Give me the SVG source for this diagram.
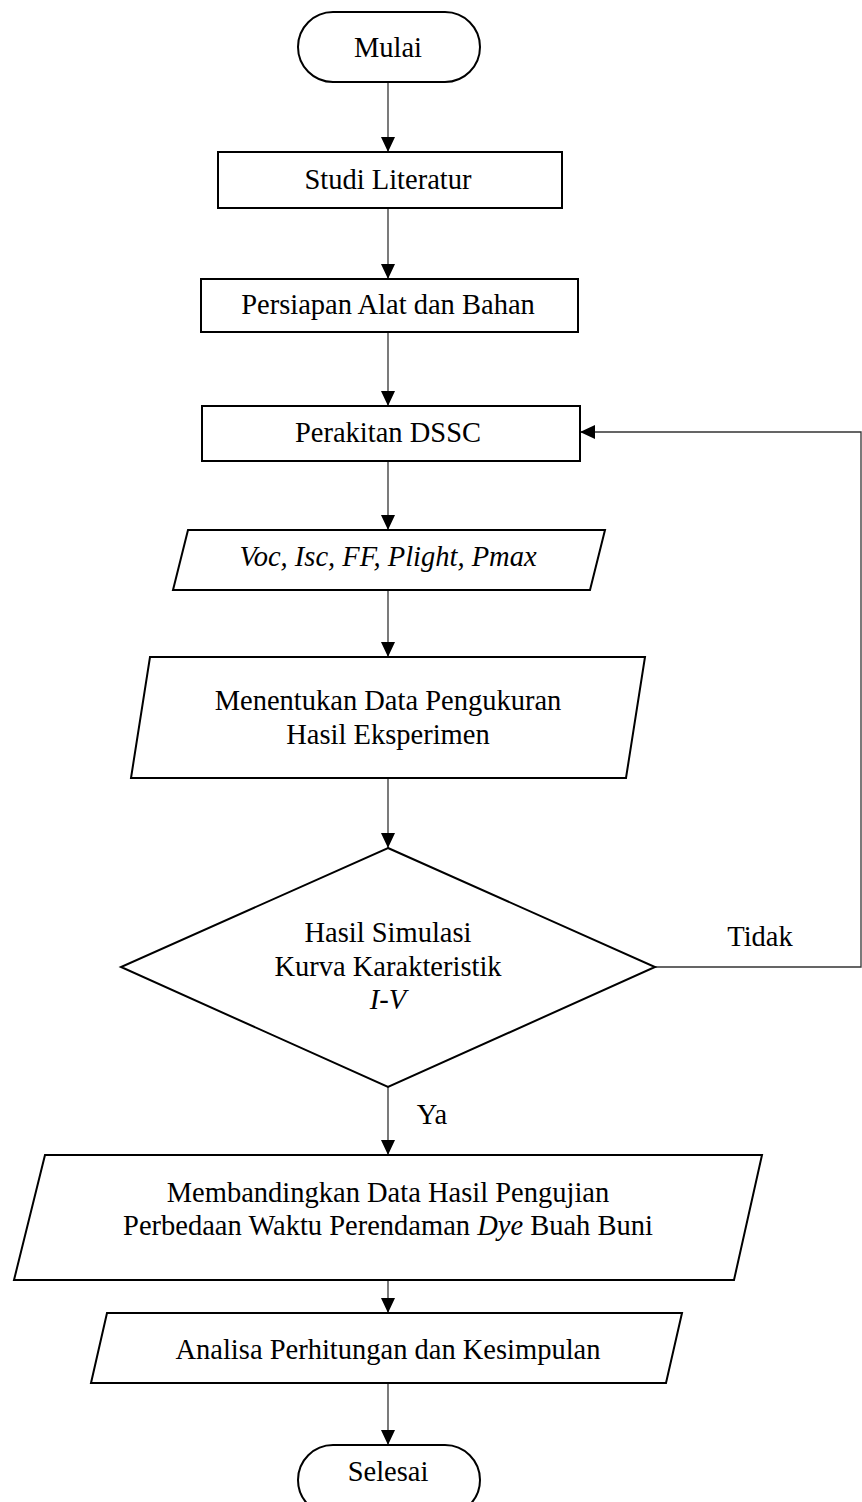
<svg xmlns="http://www.w3.org/2000/svg" width="862" height="1502" viewBox="0 0 862 1502">
<style>
.s{fill:#fff;stroke:#000;stroke-width:2}
.t{font-family:"Liberation Serif","Times New Roman",serif;font-size:28.5px;fill:#000;text-anchor:middle}
.i{font-style:italic}
.c{fill:none;stroke:#333;stroke-width:1.3}
</style>
<defs>
<marker id="a" markerWidth="15" markerHeight="14" refX="15" refY="7" orient="auto" markerUnits="userSpaceOnUse">
<path d="M0,0 L15,7 L0,14 Z" fill="#000"/>
</marker>
</defs>
<rect width="862" height="1502" fill="#fff"/>
<g id="connectors">
<line class="c" x1="388" y1="82" x2="388" y2="152" marker-end="url(#a)"/>
<line class="c" x1="388" y1="208" x2="388" y2="279" marker-end="url(#a)"/>
<line class="c" x1="388" y1="332" x2="388" y2="406" marker-end="url(#a)"/>
<line class="c" x1="388" y1="461" x2="388" y2="530" marker-end="url(#a)"/>
<line class="c" x1="388" y1="590" x2="388" y2="657" marker-end="url(#a)"/>
<line class="c" x1="388" y1="778" x2="388" y2="848" marker-end="url(#a)"/>
<line class="c" x1="388" y1="1087" x2="388" y2="1155" marker-end="url(#a)"/>
<line class="c" x1="388" y1="1280" x2="388" y2="1313" marker-end="url(#a)"/>
<line class="c" x1="388" y1="1383" x2="388" y2="1445" marker-end="url(#a)"/>
<polyline class="c" points="655,967 861,967 861,432 580,432" marker-end="url(#a)"/>
<text class="t" x="760" y="946">Tidak</text>
<text class="t" x="432" y="1124">Ya</text>
</g>
<g id="mulai">
<rect class="s" x="298" y="12" width="182" height="70" rx="35"/>
<text class="t" x="388" y="57">Mulai</text>
</g>
<g id="studi">
<rect class="s" x="218" y="152" width="344" height="56"/>
<text class="t" x="388" y="189">Studi Literatur</text>
</g>
<g id="persiapan">
<rect class="s" x="201" y="279" width="377" height="53"/>
<text class="t" x="388" y="314">Persiapan Alat dan Bahan</text>
</g>
<g id="perakitan">
<rect class="s" x="202" y="406" width="378" height="55"/>
<text class="t" x="388" y="442">Perakitan DSSC</text>
</g>
<g id="voc">
<polygon class="s" points="188,530 605,530 590,590 173,590"/>
<text class="t i" x="388" y="566">Voc, Isc, FF, Plight, Pmax</text>
</g>
<g id="menentukan">
<polygon class="s" points="150,657 645,657 626,778 131,778"/>
<text class="t" x="388" y="710">Menentukan Data Pengukuran</text>
<text class="t" x="388" y="744">Hasil Eksperimen</text>
</g>
<g id="decision">
<polygon class="s" points="388,848 655,967 388,1087 121,967"/>
<text class="t" x="388" y="942">Hasil Simulasi</text>
<text class="t" x="388" y="976">Kurva Karakteristik</text>
<text class="t i" x="388" y="1009">I-V</text>
</g>
<g id="membandingkan">
<polygon class="s" points="45,1155 762,1155 734,1280 14,1280"/>
<text class="t" x="388" y="1202">Membandingkan Data Hasil Pengujian</text>
<text class="t" x="388" y="1235">Perbedaan Waktu Perendaman <tspan class="i">Dye</tspan> Buah Buni</text>
</g>
<g id="analisa">
<polygon class="s" points="107,1313 682,1313 666,1383 91,1383"/>
<text class="t" x="388" y="1359">Analisa Perhitungan dan Kesimpulan</text>
</g>
<g id="selesai">
<rect class="s" x="298" y="1445" width="182" height="70" rx="35"/>
<text class="t" x="388" y="1481">Selesai</text>
</g>
</svg>
